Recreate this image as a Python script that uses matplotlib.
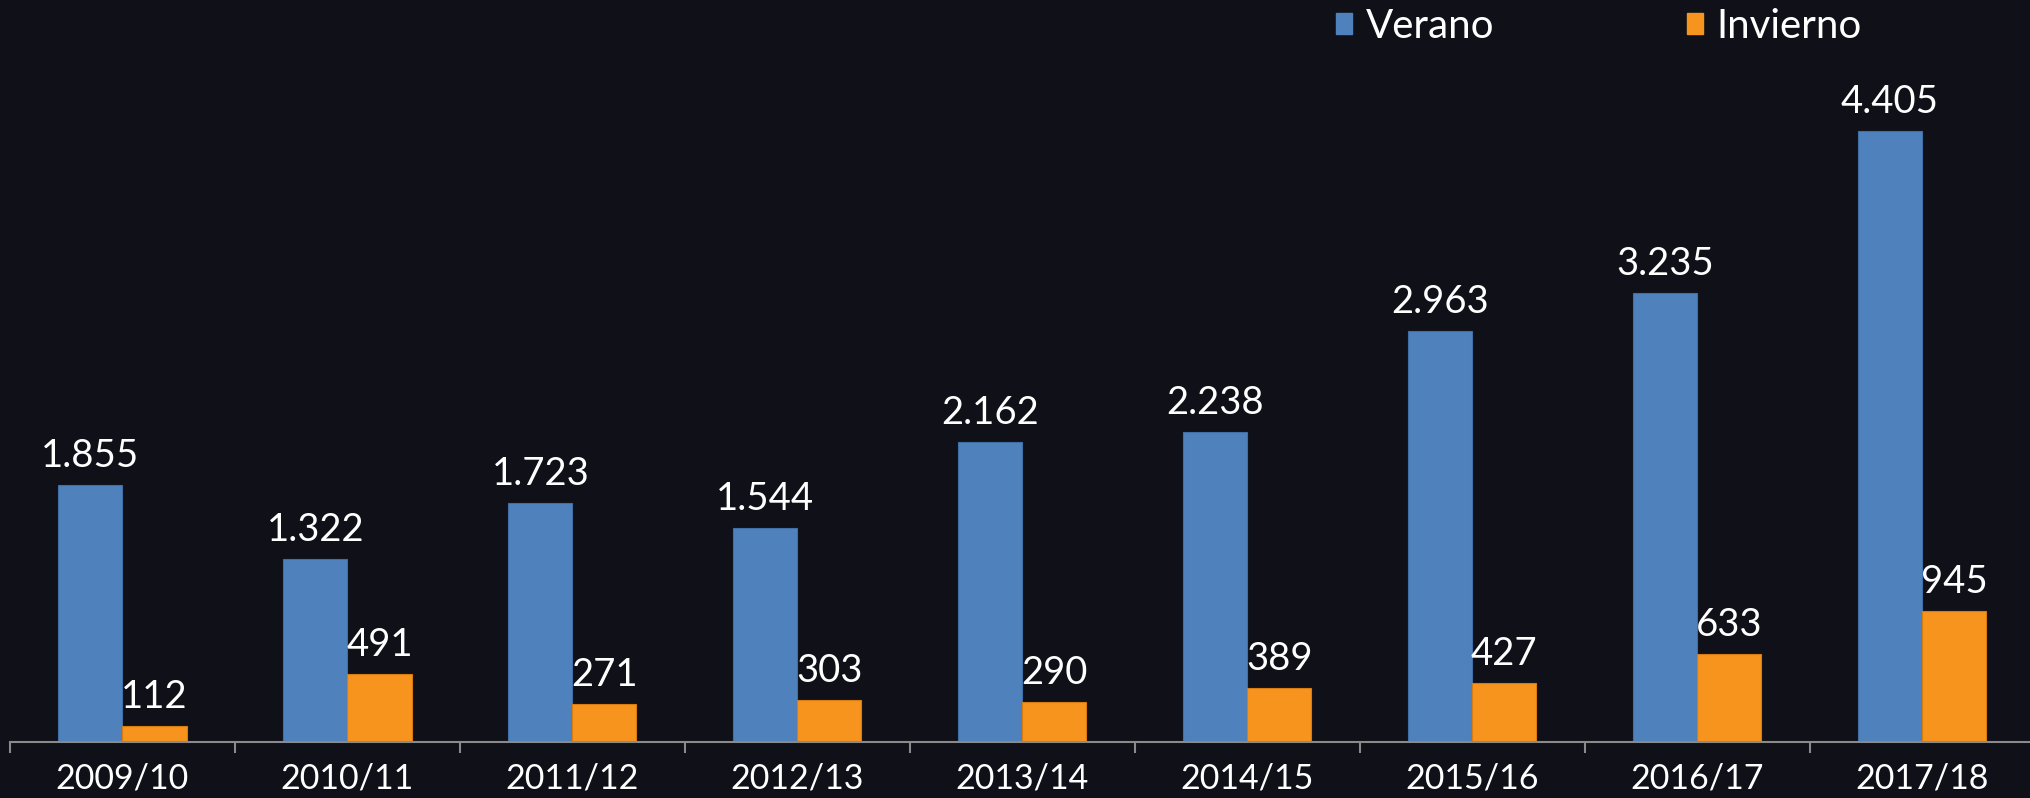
import matplotlib
matplotlib.use("Agg")
import matplotlib.pyplot as plt
from matplotlib.patches import Patch
from matplotlib.ticker import FixedLocator
import numpy as np

categories = ["2009/10", "2010/11", "2011/12", "2012/13", "2013/14",
              "2014/15", "2015/16", "2016/17", "2017/18"]
verano = [1855, 1322, 1723, 1544, 2162, 2238, 2963, 3235, 4405]
invierno = [112, 491, 271, 303, 290, 389, 427, 633, 945]
series_names = ["Verano", "Invierno"]

BG = "#0f1018"
BLUE = "#4f81bd"
ORANGE = "#f7941e"
AXIS = "#8a8a8a"
FONT = ["Lato", "DejaVu Sans"]

def fmt(v):
    return f"{v:,}".replace(",", ".")

fig = plt.figure(figsize=(20.30, 7.98), dpi=100, facecolor=BG)
ax = fig.add_axes([10 / 2030, 56 / 798, 1 - 10 / 2030, 1 - 56 / 798])
ax.set_facecolor(BG)

x = np.arange(len(categories))
w = 0.285
b1 = ax.bar(x - w / 2, verano, width=w, color=BLUE, edgecolor="#3f6fa6", linewidth=0.8)
b2 = ax.bar(x + w / 2, invierno, width=w, color=ORANGE, edgecolor="#d97c10", linewidth=0.8)

for bars, vals in ((b1, verano), (b2, invierno)):
    for r, v in zip(bars, vals):
        ax.annotate(fmt(v), (r.get_x() + r.get_width() / 2, r.get_height()),
                    xytext=(0, 13), textcoords="offset points",
                    ha="center", va="baseline", color="white",
                    fontsize=27.5, family=FONT)

ax.set_xlim(-0.5, 8.48)
ax.set_ylim(0, 5350)
ax.set_xticks(x)
ax.set_xticklabels(categories, color="white", fontsize=24.5, family=FONT)
ax.tick_params(axis="x", which="major", length=0, pad=15)
ax.xaxis.set_minor_locator(FixedLocator(np.arange(-0.5, 9, 1.0)))
ax.tick_params(axis="x", which="minor", length=8, width=1.5, color=AXIS, direction="out")
ax.set_yticks([])
for s in ("top", "right", "left"):
    ax.spines[s].set_visible(False)
ax.spines["bottom"].set_color(AXIS)
ax.spines["bottom"].set_linewidth(1.5)

handles = [Patch(facecolor=BLUE, edgecolor=BLUE), Patch(facecolor=ORANGE, edgecolor=ORANGE)]
leg = fig.legend(handles, series_names, loc="upper left",
                 bbox_to_anchor=(1328 / 2030, 1.0), ncol=2, frameon=False,
                 prop={"family": FONT, "size": 29},
                 handlelength=0.4, handleheight=0.4, handletextpad=0.33,
                 columnspacing=4.8, borderpad=0.2, borderaxespad=0)
for t in leg.get_texts():
    t.set_color("white")

fig.savefig("out.png", facecolor=BG, dpi=100)
